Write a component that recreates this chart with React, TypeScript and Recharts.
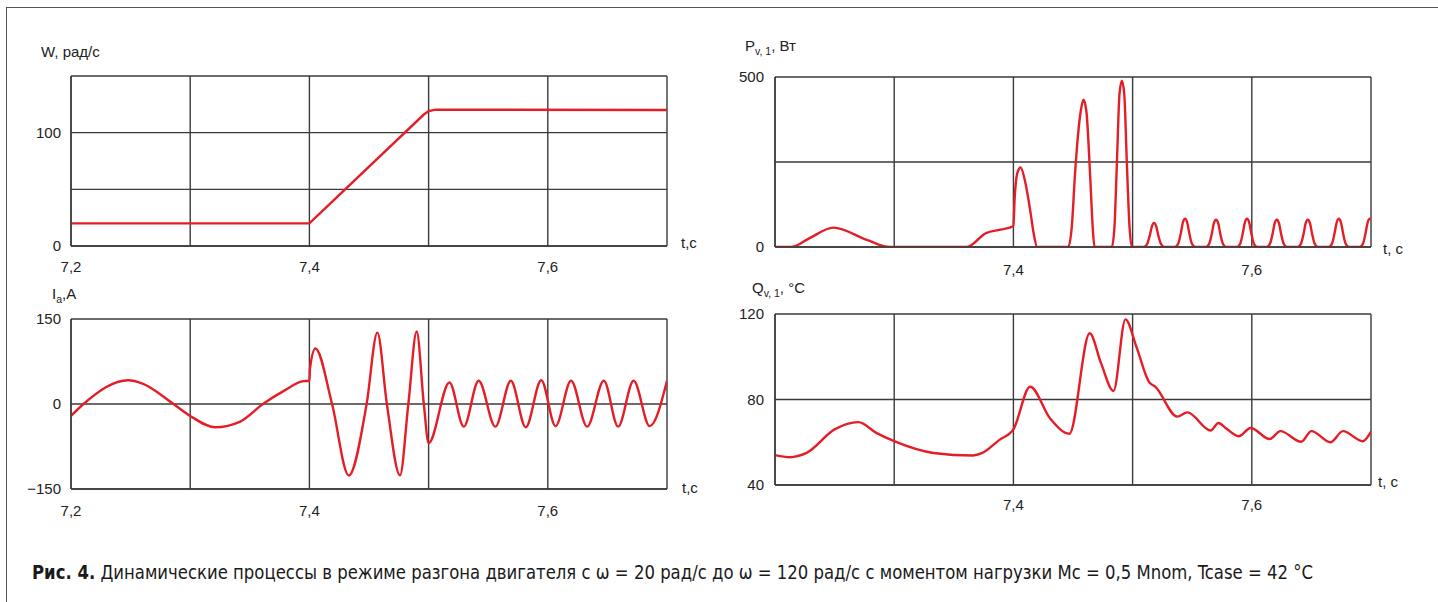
import React from 'react';
import { LineChart, Line, XAxis, YAxis, CartesianGrid } from 'recharts';

// time axis shared by all four panels
const timeTicks = [7.2, 7.3, 7.4, 7.5, 7.6, 7.7];
const leftTimeLabels = ['7,2', '', '7,4', '', '7,6', ''];
const rightTimeLabels = ['', '', '7,4', '', '7,6', ''];

// W, rad/s
const speedTime = [7.2, 7.4, 7.496, 7.5, 7.506, 7.7];
const speedValue = [20, 20, 116, 119, 120.3, 120];
const speedTicks = [0, 50, 100, 150];
const speedTickLabels = ['0', '', '100', ''];

// P v,1, W
const lossTime = [
  7.2, 7.214, 7.229, 7.249, 7.277, 7.296, 7.361, 7.377, 7.389, 7.4, 7.401, 7.4035, 7.406, 7.41,
  7.414, 7.417, 7.42,
  7.446, 7.449, 7.4517, 7.4565, 7.4588, 7.4612, 7.4643, 7.4665, 7.468,
  7.4826, 7.4848, 7.4868, 7.489, 7.491, 7.493, 7.4952, 7.4974, 7.4994,
  7.5095, 7.5125, 7.5145, 7.5162, 7.518, 7.5198, 7.5215, 7.5235, 7.5265,
  7.5355, 7.5385, 7.5405, 7.5422, 7.544, 7.5458, 7.5475, 7.5495, 7.5525,
  7.5615, 7.5645, 7.5665, 7.5682, 7.57, 7.5718, 7.5735, 7.5755, 7.5785,
  7.5875, 7.5905, 7.5925, 7.5942, 7.596, 7.5978, 7.5995, 7.6015, 7.6045,
  7.6125, 7.6155, 7.6175, 7.6192, 7.621, 7.6228, 7.6245, 7.6265, 7.6295,
  7.6385, 7.6415, 7.6435, 7.6452, 7.647, 7.6488, 7.6505, 7.6525, 7.6555,
  7.6645, 7.6675, 7.6695, 7.6712, 7.673, 7.6748, 7.6765, 7.6785, 7.6815,
  7.6905, 7.6935, 7.6955, 7.6972, 7.699, 7.7,
];
const lossValue = [
  0, 0, 26, 57, 21, 0, 0, 41, 51, 61, 140, 220, 234, 190,
  110, 40, 0,
  0, 60, 216, 400, 433, 400, 216, 60, 0,
  0, 60, 245, 450, 489, 450, 245, 60, 0,
  0, 11, 35, 61, 71, 61, 35, 11, 0,
  0, 12, 42, 72, 83, 72, 42, 12, 0,
  0, 12, 40, 70, 80, 70, 40, 12, 0,
  0, 12, 42, 72, 83, 72, 42, 12, 0,
  0, 12, 40, 70, 80, 70, 40, 12, 0,
  0, 12, 40, 70, 80, 70, 40, 12, 0,
  0, 12, 42, 72, 83, 72, 42, 12, 0,
  0, 12, 42, 72, 83, 82,
];
const lossTicks = [0, 250, 500];
const lossTickLabels = ['0', '', '500'];

// I a, A
const currentTime = [
  7.2, 7.2105, 7.248, 7.26, 7.286, 7.3, 7.321, 7.342, 7.361, 7.38, 7.394, 7.4, 7.4005, 7.405,
  7.419, 7.433, 7.448, 7.457, 7.465, 7.476, 7.483, 7.49, 7.496, 7.5, 7.5175, 7.5295, 7.542,
  7.556, 7.569, 7.5815, 7.5945, 7.6065, 7.6195, 7.633, 7.647, 7.659, 7.672, 7.6855, 7.7,
];
const currentValue = [
  -21, 0, 42, 36, 0, -21, -41, -31, 0, 25, 40, 41, 63, 98,
  0, -126, 0, 126, 0, -126, 0, 128, 0, -69, 38, -40, 41,
  -40, 41, -41, 42, -39, 41, -40, 41, -40, 41, -39, 41,
];
const currentTicks = [-150, 0, 150];
const currentTickLabels = ['\u2212150', '0', '150'];

// Q v,1, degC
const tempTime = [
  7.2, 7.2125, 7.2265, 7.25, 7.27, 7.285, 7.3, 7.333, 7.366, 7.374, 7.388, 7.4, 7.414,
  7.431, 7.447, 7.464, 7.4735, 7.484, 7.494, 7.503, 7.514, 7.519, 7.5375, 7.546, 7.5655,
  7.572, 7.578, 7.589, 7.599, 7.615, 7.624, 7.6415, 7.65, 7.666, 7.6765, 7.693, 7.7,
];
const tempValue = [
  54, 53, 55, 66, 69.4, 64.4, 60.5, 55, 53.8, 55, 61, 66, 86,
  71, 64, 111, 97, 84, 117.5, 105, 88, 86, 72, 74, 65.5,
  69, 66.7, 62.8, 66.7, 61.5, 65.2, 60.2, 65.2, 60, 65.2, 60.5, 65,
];
const tempTicks = [40, 80, 120];
const tempTickLabels = ['40', '80', '120'];

const FONT = '"Liberation Sans", Arial, sans-serif';
const GRID = '#3a3a3a';
const RED = '#e41e26';

const toRows = (t: number[], v: number[]) => t.map((x, i) => ({ t: x, v: v[i] }));

interface PanelProps {
  x: number;
  y: number;
  w: number;
  h: number;
  rows: { t: number; v: number }[];
  curve: 'linear' | 'monotone';
  yTicks: number[];
  yLabels: string[];
  xLabels: string[];
  xMargin: number;
  yMargin: number;
}

function Panel({ x, y, w, h, rows, curve, yTicks, yLabels, xLabels, xMargin, yMargin }: PanelProps) {
  const yw = 60;
  const mt = 10;
  const mr = 10;
  const xh = 40;
  return (
    <div style={{ position: 'absolute', left: x - yw, top: y - mt }}>
      <LineChart
        width={yw + w + mr}
        height={mt + h + xh}
        data={rows}
        margin={{ top: mt, right: mr, bottom: 0, left: 0 }}
      >
        <CartesianGrid stroke={GRID} strokeWidth={1.4} />
        <XAxis
          dataKey="t"
          type="number"
          domain={[7.2, 7.7]}
          ticks={timeTicks}
          interval={0}
          height={xh}
          tickSize={0}
          tickMargin={xMargin}
          axisLine={{ stroke: GRID, strokeWidth: 1.4 }}
          tick={{ fill: '#222', fontSize: 15, fontFamily: FONT }}
          tickFormatter={(_v: number, i: number) => xLabels[i]}
          allowDataOverflow
        />
        <YAxis
          type="number"
          domain={[yTicks[0], yTicks[yTicks.length - 1]]}
          ticks={yTicks}
          interval={0}
          width={yw}
          tickSize={0}
          tickMargin={yMargin}
          axisLine={{ stroke: GRID, strokeWidth: 1.4 }}
          tick={{ fill: '#222', fontSize: 15, fontFamily: FONT }}
          tickFormatter={(_v: number, i: number) => yLabels[i]}
          allowDataOverflow
        />
        <Line
          dataKey="v"
          type={curve}
          stroke={RED}
          strokeWidth={2.4}
          dot={false}
          activeDot={false}
          isAnimationActive={false}
        />
      </LineChart>
    </div>
  );
}

function Label({ left, cy, children }: { left: number; cy: number; children: React.ReactNode }) {
  return (
    <div
      style={{
        position: 'absolute',
        left,
        top: cy - 9,
        fontSize: 15,
        lineHeight: '17px',
        fontFamily: FONT,
        color: '#222',
        whiteSpace: 'nowrap',
      }}
    >
      {children}
    </div>
  );
}

const Sub = ({ children }: { children: React.ReactNode }) => (
  <span style={{ fontSize: 10.5, position: 'relative', top: 4 }}>{children}</span>
);

export default function App() {
  return (
    <div
      style={{
        position: 'absolute',
        left: 0,
        top: 0,
        width: 1438,
        height: 602,
        background: '#fff',
        overflow: 'hidden',
      }}
    >
      <div
        style={{
          position: 'absolute',
          left: 6,
          top: 7,
          width: 1500,
          height: 700,
          border: '1.5px solid #555',
        }}
      />

      <Panel x={71} y={76} w={596} h={170} rows={toRows(speedTime, speedValue)} curve="linear"
        yTicks={speedTicks} yLabels={speedTickLabels} xLabels={leftTimeLabels} xMargin={15} yMargin={10} />
      <Panel x={775} y={77} w={596} h={170} rows={toRows(lossTime, lossValue)} curve="monotone"
        yTicks={lossTicks} yLabels={lossTickLabels} xLabels={rightTimeLabels} xMargin={17} yMargin={11} />
      <Panel x={71} y={319} w={596} h={170} rows={toRows(currentTime, currentValue)} curve="monotone"
        yTicks={currentTicks} yLabels={currentTickLabels} xLabels={leftTimeLabels} xMargin={16} yMargin={10} />
      <Panel x={775} y={314} w={596} h={171} rows={toRows(tempTime, tempValue)} curve="monotone"
        yTicks={tempTicks} yLabels={tempTickLabels} xLabels={rightTimeLabels} xMargin={14} yMargin={11} />

      <Label left={41} cy={52}>W, рад/с</Label>
      <Label left={745} cy={46}>P<Sub>v, 1</Sub>, Вт</Label>
      <Label left={52} cy={294}>I<Sub>a</Sub>,A</Label>
      <Label left={752} cy={288}>Q<Sub>v, 1</Sub>, °C</Label>
      <Label left={681} cy={243}>t,c</Label>
      <Label left={1383} cy={249}>t, c</Label>
      <Label left={682} cy={488}>t,c</Label>
      <Label left={1378} cy={482}>t, c</Label>

      <svg style={{ position: 'absolute', left: 0, top: 550 }} width={1438} height={45}>
        <text
          x={32}
          y={29}
          textLength={1281}
          lengthAdjust="spacingAndGlyphs"
          fontSize={20}
          fill="#1a1a1a"
          fontFamily='"Liberation Sans Narrow", "DejaVu Sans Condensed", "Liberation Sans", sans-serif'
        >
          <tspan fontWeight="bold">Рис. 4.</tspan>
          <tspan> Динамические процессы в режиме разгона двигателя с ω = 20 рад/с до ω = 120 рад/с с моментом нагрузки Mc = 0,5 Mnom, Tcase = 42 °C</tspan>
        </text>
      </svg>
    </div>
  );
}
